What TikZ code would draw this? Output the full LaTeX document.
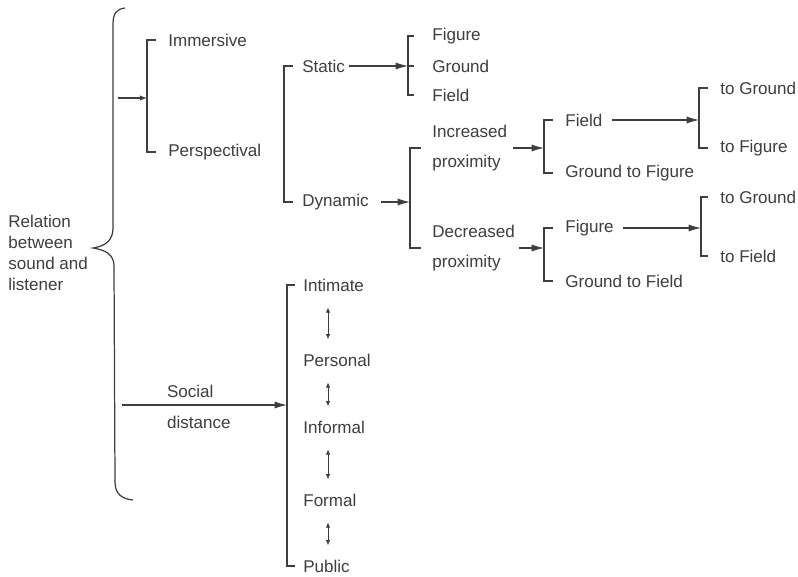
\documentclass[tikz,border=0pt]{standalone}
\usepackage{fontspec}
\setmainfont{Liberation Sans}
\usetikzlibrary{arrows.meta}
\definecolor{ink}{RGB}{62,62,62}

\begin{document}
\begin{tikzpicture}[x=0.02cm,y=-0.02cm,
    lbl/.style={anchor=west,inner sep=0pt,text=ink,font=\fontsize{9.7}{12}\selectfont},
    two/.style={lbl,align=left,font=\fontsize{9.7}{17}\selectfont},
    brk/.style={draw=ink,line width=0.6pt},
    arr/.style={draw=ink,line width=0.6pt,-{Latex[length=7pt,width=4pt]}},
    dbl/.style={draw=ink,line width=0.5pt,shorten <=9pt,shorten >=8pt,
      {Latex[length=3pt,width=2.5pt]}-{Latex[length=3pt,width=2.5pt]}}]
  \useasboundingbox (0,0) rectangle (798,577);
  \fill[white] (0,0) rectangle (798,577);

  % left label and the brace
  \node[lbl,align=left] (rel) at (8,253) {Relation\\between\\sound and\\listener};
  \draw[ink,line width=0.7pt] (125,8) .. controls (117,9) and (113,13) .. (113,24)
    -- (113,228) .. controls (113,240) and (106,246) .. (93,248)
    .. controls (106,250) and (114,255) .. (114,266)
    -- (115,482) .. controls (115,494) and (122,499) .. (133,500);

  % bracket points
  \coordinate (i0) at (118,98);
  \coordinate (b0) at (147,98);
  \coordinate (b1) at (284,134);
  \coordinate (b2) at (408,66);
  \coordinate (b3) at (410,202);
  \coordinate (b4) at (544,148);
  \coordinate (b5) at (544,248);
  \coordinate (b6) at (699,120);
  \coordinate (b7) at (701,228);
  \coordinate (s0) at (122,405);
  \coordinate (b8) at (287,405);
  \coordinate (dx) at (328,300);

  % labels
  \node[lbl] (imm) at (168,40) {Immersive};
  \node[lbl] (persp) at (168,152) {Perspectival};
  \node[lbl] (stat) at (302,66) {Static};
  \node[lbl] (dyn) at (302,202) {Dynamic};
  \node[lbl] (fig1) at (432,36) {Figure};
  \node[lbl] (grd1) at (432,66) {Ground};
  \node[lbl] (fld1) at (432,95) {Field};
  \node[two] (inc) at (432,148) {Increased\\proximity};
  \node[two] (dec) at (432,248) {Decreased\\proximity};
  \node[lbl] (fld2) at (565,120) {Field};
  \node[lbl] (gtf) at (565,173) {Ground to Figure};
  \node[lbl] (fig2) at (565,228) {Figure};
  \node[lbl] (gtfl) at (565,281) {Ground to Field};
  \node[lbl] (tg1) at (720,88) {to Ground};
  \node[lbl] (tfig) at (720,148) {to Figure};
  \node[lbl] (tg2) at (720,197) {to Ground};
  \node[lbl] (tfl) at (720,256) {to Field};
  \node[lbl] (intim) at (303,285) {Intimate};
  \node[lbl] (pers) at (303,360) {Personal};
  \node[lbl] (infor) at (303,427) {Informal};
  \node[lbl] (form) at (303,500) {Formal};
  \node[lbl] (pub) at (303,566) {Public};

  % brackets
  \draw[brk] ([xshift=-7pt]imm.west) -| (b0) |- ([xshift=-7pt]persp.west);
  \draw[brk] ([xshift=-5pt]stat.west) -| (b1) |- ([xshift=-5pt]dyn.west);
  \draw[brk] ([xshift=-10pt]fig1.west) -| (b2) |- ([xshift=-10pt]fld1.west);
  \draw[brk] ([xshift=-10pt]grd1.west) -- (grd1.west -| b2);
  \draw[brk] ([xshift=-6pt]inc.west) -| (b3) |- ([xshift=-6pt]dec.west);
  \draw[brk] ([xshift=-7pt]fld2.west) -| (b4) |- ([xshift=-7pt]gtf.west);
  \draw[brk] ([xshift=-7pt]fig2.west) -| (b5) |- ([xshift=-7pt]gtfl.west);
  \draw[brk] ([xshift=-7pt]tg1.west) -| (b6) |- ([xshift=-7pt]tfig.west);
  \draw[brk] ([xshift=-7pt]tg2.west) -| (b7) |- ([xshift=-7pt]tfl.west);
  \draw[brk] ([xshift=-4.5pt]intim.west) -| (b8) |- ([xshift=-4.5pt]pub.west);

  % arrows
  \draw[arr,-{Latex[length=4pt,width=3pt]}] (i0) -- (b0);
  \draw[arr,shorten <=2pt] (stat) -- (b2);
  \draw[arr,shorten <=7pt] (dyn) -- (b3);
  \draw[arr,shorten <=3pt] (inc) -- (b4);
  \draw[arr,shorten <=2pt] (dec) -- (b5);
  \draw[arr,shorten <=5.5pt] (fld2) -- (b6);
  \draw[arr,shorten <=5pt] (fig2) -- (b7);
  \draw[arr] (s0) -- (b8)
    node[lbl,pos=0.27,anchor=south west,yshift=4pt] (soc) {Social}
    node[lbl,pos=0.27,anchor=north west,yshift=-6pt] (dist) {distance};

  % social distance steps
  \draw[dbl] (intim.south -| dx) -- (pers.north -| dx);
  \draw[dbl] (pers.south -| dx) -- (infor.north -| dx);
  \draw[dbl] (infor.south -| dx) -- (form.north -| dx);
  \draw[dbl] (form.south -| dx) -- (pub.north -| dx);
\end{tikzpicture}
\end{document}
